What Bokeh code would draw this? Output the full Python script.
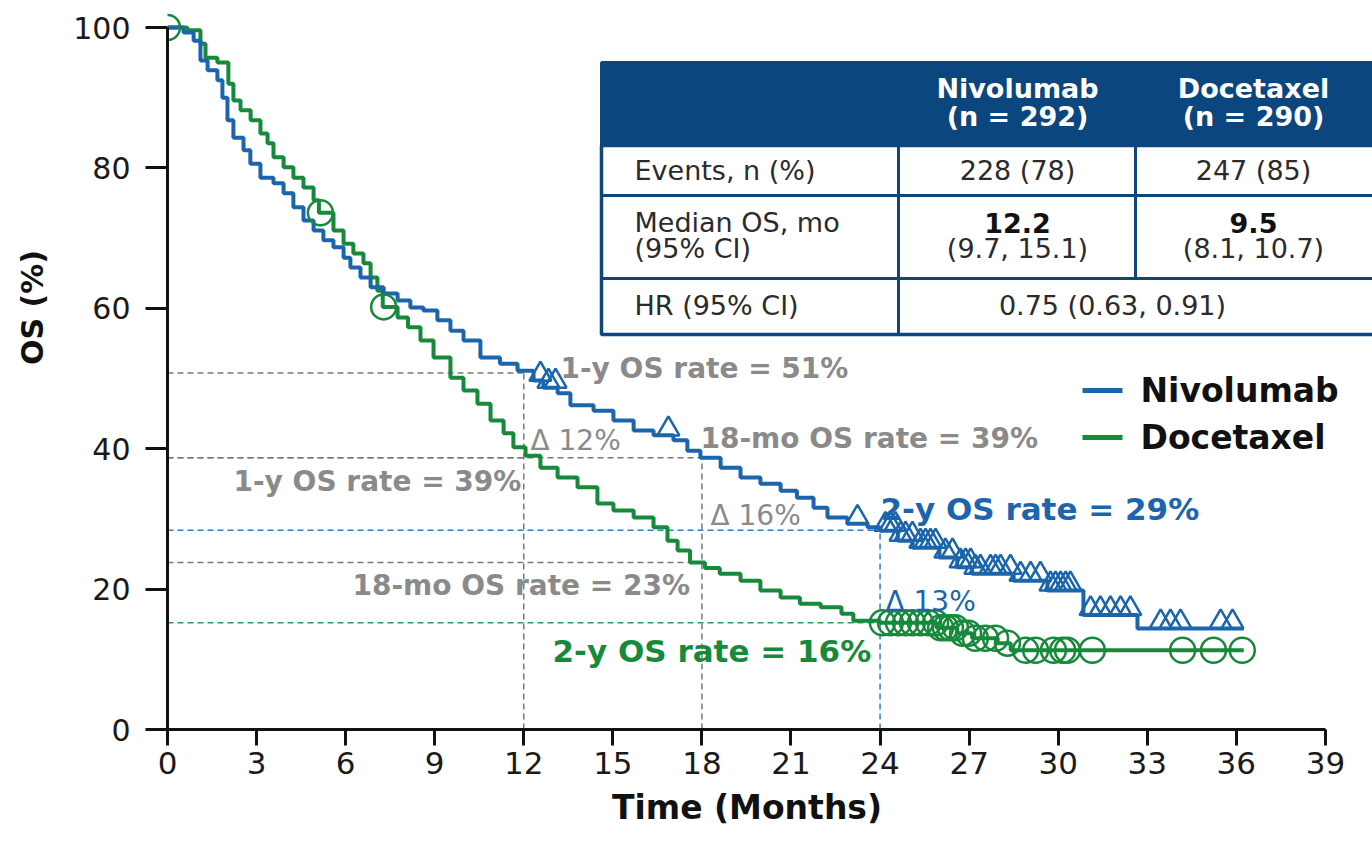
from bokeh.plotting import figure
from bokeh.models import Range1d, Label, FixedTicker
from bokeh.embed import file_html
from bokeh.resources import INLINE

# ---------------- data ----------------
nivo_t = [0, 0.54, 0.88, 1.11, 1.35, 1.68, 1.85, 2.02, 2.22, 2.56, 2.79, 3.13, 3.57, 3.91, 4.24,
          4.58, 4.92, 5.25, 5.59, 5.93, 6.16, 6.5, 6.84, 7.28, 7.75, 8.18, 8.62, 9.09, 9.53, 9.97,
          10.54, 11.2, 11.79, 12.33, 12.66, 13.14, 13.57, 14.35, 15.02, 15.7, 16.37, 17.04, 17.51,
          17.95, 18.63, 19.3, 19.97, 20.65, 21.2, 21.76, 22.23, 22.9, 23.58, 24.0, 24.6, 25.1, 26.0,
          26.6, 27.1, 28.5, 29.64, 30.85, 32.67]
nivo_s = [100, 99.3, 98.1, 95.3, 93.9, 92.5, 90.0, 86.8, 84.3, 82.5, 80.6, 78.6, 77.8, 76.4, 74.4,
          72.5, 71.1, 69.7, 68.7, 67.2, 65.8, 64.4, 63.0, 62.1, 61.1, 60.1, 59.7, 58.3, 56.8, 55.4,
          53.0, 52.1, 51.1, 49.7, 48.7, 47.9, 46.2, 45.4, 44.0, 42.6, 41.9, 41.2, 39.7,
          38.7, 37.3, 35.9, 35.0, 34.0, 33.0, 31.6, 30.2, 29.3, 28.8, 28.3, 26.9, 25.9, 24.5,
          23.1, 22.2, 21.2, 19.8, 16.3, 14.4]
nivo_end = 36.25
nivo_censor = [12.56, 12.83, 13.07, 16.87, 23.24, 24.18, 24.35, 24.52, 24.69, 24.86, 25.09, 25.36,
               25.53, 25.70, 25.87, 26.20, 26.44, 26.71, 26.88, 27.05, 27.21, 27.38, 27.72, 27.89,
               28.06, 28.39, 28.73, 29.07, 29.40, 29.74, 29.91, 30.08, 30.25, 30.41, 31.09, 31.42,
               31.76, 32.10, 32.43, 33.45, 33.78, 34.12, 35.47, 35.87]

doce_t = [0, 0.67, 1.11, 1.28, 1.68, 2.05, 2.22, 2.46, 2.8, 3.13, 3.37, 3.57, 3.91, 4.24, 4.58,
          4.92, 5.1, 5.59, 5.93, 6.26, 6.6, 6.84, 7.07, 7.25, 7.75, 8.1, 8.52, 8.96, 9.53, 9.97,
          10.44, 10.88, 11.32, 11.65, 12.06, 12.56, 13.14, 13.81, 14.48, 15.02, 15.7, 16.37, 16.84,
          17.18, 17.6, 18.1, 18.6, 19.3, 19.97, 20.65, 21.3, 22.0, 22.7, 23.1, 24.0, 25.9, 26.6,
          27.1, 27.96, 28.4]
doce_s = [100, 99.6, 97.7, 95.7, 95.0, 92.0, 89.6, 88.2, 86.8, 84.9, 83.5, 81.5, 80.1, 78.6, 77.2,
          75.4, 73.6, 71.1, 69.2, 67.8, 66.4, 64.4, 62.5, 60.2, 58.7, 57.3, 55.4, 53.0, 50.1, 48.3,
          46.4, 44.0, 42.2, 40.2, 39.0, 37.3, 35.9, 34.5, 32.2, 31.2, 30.2, 28.8, 26.9,
          25.5, 23.8, 23.0, 22.2, 21.2, 19.8, 18.8, 17.9, 17.4, 16.5, 15.5, 15.2, 14.5, 13.7,
          13.0, 12.3, 11.3]
doce_end = 36.25
doce_censor = [0, 5.15, 7.28, 24.08, 24.35, 24.62, 24.86, 25.09, 25.36, 25.63, 25.87, 26.04, 26.2,
               26.37, 26.54, 26.78, 26.98, 27.21, 27.55, 27.89, 28.29, 28.9, 29.24, 29.84, 30.15,
               30.31, 31.15, 34.19, 35.23, 36.2]

# landmark rates (month, nivolumab %, docetaxel %)
landmark_months = [12, 18, 24]
landmark_nivo = [50.8, 38.7, 28.4]
landmark_doce = [38.7, 23.8, 15.2]

x_ticks = [0, 3, 6, 9, 12, 15, 18, 21, 24, 27, 30, 33, 36, 39]
y_ticks = [0, 20, 40, 60, 80, 100]

series_names = ["Nivolumab", "Docetaxel"]
table_header = ["Nivolumab\n(n = 292)", "Docetaxel\n(n = 290)"]
events = ["228 (78)", "247 (85)"]
median_os = ["12.2", "9.5"]
median_ci = ["(9.7, 15.1)", "(8.1, 10.7)"]
hr_text = "0.75 (0.63, 0.91)"

# ---------------- styling ----------------
BLUE = "#1B65AC"
GREEN = "#17893B"
GRAY = "#8A8A8A"
NAVY = "#0B467E"
TXT = "#2B2B2B"
FONT = "DejaVu Sans"
NB = "\u00a0"

W, H = 1372, 841
PX_X = 29.69   # px per month
PX_Y = 7.02    # px per percent
ORIG_X, ORIG_Y = 167, 729  # pixel of data origin


def px(xp):
    return (xp - ORIG_X) / PX_X


def py(yp):
    return (ORIG_Y - yp) / PX_Y


p = figure(width=W, height=H, x_range=Range1d(0, px(W)), y_range=Range1d(0, py(0)),
           output_backend="svg", toolbar_location=None, min_border_left=ORIG_X, min_border_right=0,
           min_border_top=0, min_border_bottom=H - ORIG_Y)
p.outline_line_color = None
p.xgrid.visible = False
p.ygrid.visible = False
p.background_fill_color = "white"
p.border_fill_color = "white"

# axes
xa = p.xaxis[0]
xa.ticker = FixedTicker(ticks=x_ticks)
xa.bounds = (0, 39)
xa.axis_line_width = 3
xa.axis_line_color = "#111111"
xa.major_tick_line_width = 3
xa.major_tick_line_color = "#111111"
xa.major_tick_out = 16
xa.major_tick_in = 0
xa.minor_tick_line_color = None
xa.major_label_text_font = FONT
xa.major_label_text_font_size = "31px"
xa.major_label_text_color = "#1a1a1a"
xa.major_label_standoff = 6
xa.axis_label = "Time (Months)" + NB * 4
xa.axis_label_text_font = FONT
xa.axis_label_text_font_size = "33px"
xa.axis_label_text_font_style = "bold"
xa.axis_label_text_color = "#111111"
xa.axis_label_standoff = 11

ya = p.yaxis[0]
ya.ticker = FixedTicker(ticks=y_ticks)
ya.bounds = (0, 100)
ya.axis_line_width = 3
ya.axis_line_color = "#111111"
ya.major_tick_line_width = 3
ya.major_tick_line_color = "#111111"
ya.major_tick_out = 22
ya.major_tick_in = 0
ya.minor_tick_line_color = None
ya.major_label_text_font = FONT
ya.major_label_text_font_size = "30px"
ya.major_label_text_color = "#1a1a1a"
ya.major_label_standoff = 15
ya.axis_label = NB * 11 + "OS (%)"
ya.axis_label_text_font = FONT
ya.axis_label_text_font_size = "30px"
ya.axis_label_text_font_style = "bold"
ya.axis_label_text_color = "#111111"
ya.axis_label_standoff = 20

dash = "6 4"
# landmark dashed lines
for m, nv, dv in zip(landmark_months, landmark_nivo, landmark_doce):
    if m < 24:
        p.line([0, m], [nv, nv], line_color="#7a7a7a", line_dash=dash, line_width=1.5)
        p.line([0, m], [dv, dv], line_color="#7a7a7a", line_dash=dash, line_width=1.5)
        p.line([m, m], [0, max(nv, dv)], line_color="#7a7a7a", line_dash=dash, line_width=1.5)
    else:
        p.line([0, m], [nv, nv], line_color="#2F7DC4", line_dash=dash, line_width=1.5)
        p.line([0, m], [dv, dv], line_color="#2E9B52", line_dash=dash, line_width=1.5)
        p.line([m, m], [0, nv], line_color="#2F7DC4", line_dash=dash, line_width=1.5)


def km_at(ts, ss, t):
    v = ss[0]
    for ti, si in zip(ts, ss):
        if ti <= t:
            v = si
    return v


# curves
p.step(doce_t + [doce_end], doce_s + [doce_s[-1]], mode="after", line_color=GREEN, line_width=4)
p.step(nivo_t + [nivo_end], nivo_s + [nivo_s[-1]], mode="after", line_color=BLUE, line_width=4)

p.scatter(doce_censor, [km_at(doce_t, doce_s, t) for t in doce_censor],
          marker="circle", size=25, fill_color=None, line_color=GREEN, line_width=2.5)
p.scatter(nivo_censor, [km_at(nivo_t, nivo_s, t) + 0.9 for t in nivo_censor],
          marker="triangle", size=22, fill_color=None, line_color=BLUE, line_width=2.5)


def lab(text, xp, yp, color=TXT, size=28, bold=False, align="left", baseline="middle"):
    p.add_layout(Label(x=px(xp), y=py(yp), text=text, text_color=color, text_font=FONT,
                       text_font_size=f"{size}px", text_font_style="bold" if bold else "normal",
                       text_align=align, text_baseline=baseline))


# annotations
lab("1-y OS rate = 51%", 560, 368, GRAY, 28, True)
lab("\u0394 12%", 530, 440, GRAY, 28)
lab("18-mo OS rate = 39%", 700, 438, GRAY, 28, True)
lab("1-y OS rate = 39%", 233, 481, GRAY, 28, True)
lab("\u0394 16%", 710, 515, GRAY, 28)
lab("2-y OS rate = 29%", 880, 508, BLUE, 31, True)
lab("18-mo OS rate = 23%", 352, 585, GRAY, 28, True)
lab("\u0394 13%", 885, 601, BLUE, 28)
lab("2-y OS rate = 16%", 552, 650, GREEN, 31, True)

# legend
for name, col, yp in zip(series_names, [BLUE, GREEN], [390, 437]):
    p.line([px(1082), px(1122)], [py(yp), py(yp)], line_color=col, line_width=5)
    lab(name, 1140, yp, "#111111", 33, True)

# table
TL, TR = 601, 1380
ROWS = [62, 145, 195, 278, 334]
COLS = [898, 1135]
p.quad(left=[px(TL)], right=[px(TR)], top=[py(ROWS[0])], bottom=[py(ROWS[1])],
       fill_color=NAVY, line_color=NAVY, line_width=3)
p.quad(left=[px(TL)], right=[px(TR)], top=[py(ROWS[1])], bottom=[py(ROWS[4])],
       fill_color="white", line_color=NAVY, line_width=3.5)
for r in ROWS[2:4]:
    p.line([px(TL), px(TR)], [py(r), py(r)], line_color=NAVY, line_width=3)
p.line([px(COLS[0])] * 2, [py(ROWS[1]), py(ROWS[4])], line_color=NAVY, line_width=3)
p.line([px(COLS[1])] * 2, [py(ROWS[1]), py(ROWS[3])], line_color=NAVY, line_width=3)

col_centers = [1017, 1253]
for c, hdr, ev, med, ci in zip(col_centers, table_header, events, median_os, median_ci):
    l1, l2 = hdr.split("\n")
    lab(l1, c, 88, "white", 27, True, "center")
    lab(l2, c, 116, "white", 27, True, "center")
    lab(ev, c, 170, TXT, 27, False, "center")
    lab(med, c, 222, "#111111", 27, True, "center")
    lab(ci, c, 248, TXT, 27, False, "center")
lab("Events,  n (%)", 634, 170, TXT, 27)
lab("Median OS, mo", 634, 222, TXT, 27)
lab("(95% CI)", 634, 248, TXT, 27)
lab("HR (95% CI)", 634, 305, TXT, 27)
lab(hr_text, 1112, 305, TXT, 27, False, "center")

open("out.html", "w").write(file_html(p, INLINE))
